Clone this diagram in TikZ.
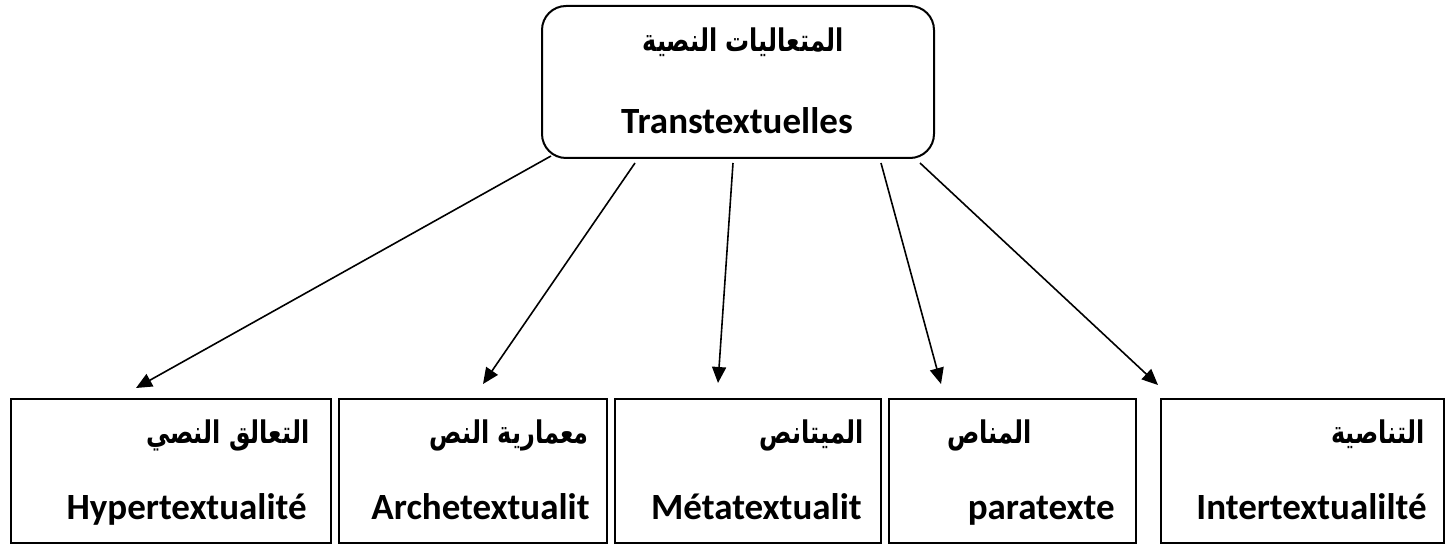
\documentclass[tikz,border=0pt]{standalone}
\usepackage{fontspec}
\setmainfont{Carlito}
\newfontfamily\arabicfont[Script=Arabic]{DejaVu Sans}
\TeXXeTstate=1
\usetikzlibrary{arrows.meta,calc}
\newcommand{\artext}[1]{\scalebox{1}[1.3]{\beginR #1\endR}}

\begin{document}
\begin{tikzpicture}[x=0.5pt,y=-0.5pt,
	every node/.style={inner sep=0pt,font=\bfseries},
	topbox/.style={draw,line width=1pt,rounded corners=12pt,minimum width=196pt,minimum height=76pt,anchor=north west},
	leafbox/.style={draw,line width=1pt,minimum height=72pt,anchor=north west},
	ar/.style={font=\arabicfont\bfseries\fontsize{12}{14}\selectfont,anchor=base east},
	lat/.style={font=\bfseries\fontsize{18.5}{20}\selectfont,anchor=base east},
	link/.style={line width=0.8pt,-{Triangle[length=8pt,width=7pt]}}]
	\useasboundingbox (0,0) rectangle (1453,545);
	% top box
	\node[topbox] (top) at (541,5) {};
	\node[ar,anchor=base] (toptxt) at (743,52) {\artext{المتعاليات النصية}};
	\node[lat,anchor=base] (toplat) at (737,134) {Transtextuelles};
	% leaves
	\node[leafbox,minimum width=160pt] (h1) at (10,398) {};
	\node[leafbox,minimum width=134pt] (h2) at (338,398) {};
	\node[leafbox,minimum width=133pt] (h3) at (614,398) {};
	\node[leafbox,minimum width=123.5pt] (h4) at (888,398) {};
	\node[leafbox,minimum width=141.5pt] (h5) at (1160,398) {};
	\node[ar] (a1) at ($(h1.north east)+(-22,46)$) {\artext{التعالق النصي}};
	\node[lat] (l1) at ($(h1.north east)+(-25,122)$) {Hypertextualité};
	\node[ar] (a2) at ($(h2.north east)+(-19,46)$) {\artext{معمارية النص}};
	\node[lat] (l2) at ($(h2.north east)+(-18,122)$) {Archetextualit};
	\node[ar] (a3) at ($(h3.north east)+(-18,46)$) {\artext{الميتانص}};
	\node[lat] (l3) at ($(h3.north east)+(-20,122)$) {Métatextualit};
	\node[ar] (a4) at ($(h4.north east)+(-105,46)$) {\artext{المناص}};
	\node[lat] (l4) at ($(h4.north east)+(-22,122)$) {paratexte};
	\node[ar] (a5) at ($(h5.north east)+(-20,46)$) {\artext{التناصية}};
	\node[lat] (l5) at ($(h5.north east)+(-18,122)$) {Intertextualilté};
	% arrows
	\draw[link] ($(top.south west)+(10,-3)$) -- ($(h1.north west)+(126,-10)$);
	\draw[link] ($(top.south west)+(94,4)$) -- ($(h2.north west)+(145,-14)$);
	\draw[link] ($(top.south west)+(192,4)$) -- ($(h3.north west)+(104,-15)$);
	\draw[link] ($(top.south west)+(340,4)$) -- ($(h4.north west)+(53,-14)$);
	\draw[link] ($(top.south west)+(379,4)$) -- ($(h5.north west)+(-2,-13)$);
\end{tikzpicture}
\end{document}
